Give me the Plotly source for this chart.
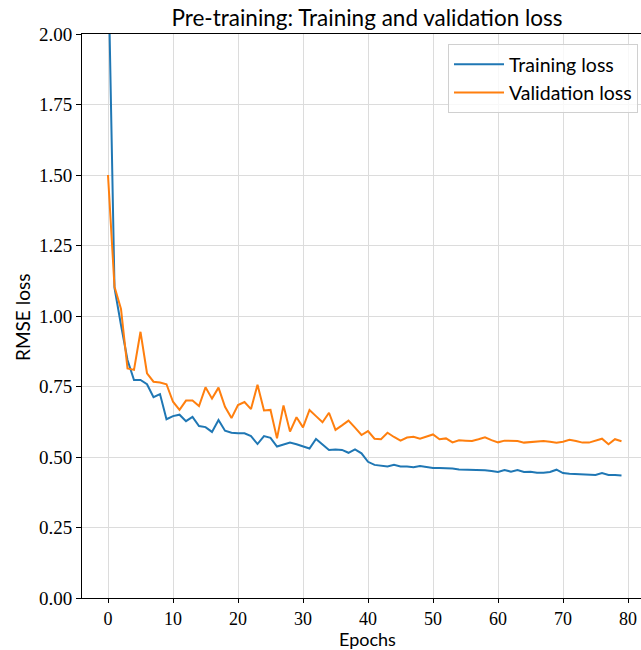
import plotly.graph_objects as go

epochs = list(range(80))

train_loss = [2.30, 1.10, 0.968, 0.844, 0.773, 0.773, 0.758, 0.712, 0.723, 0.634,
              0.645, 0.650, 0.627, 0.642, 0.610, 0.606, 0.589, 0.631, 0.593, 0.586,
              0.584, 0.584, 0.574, 0.546, 0.574, 0.568, 0.537, 0.545, 0.551, 0.545,
              0.538, 0.530, 0.564, 0.546, 0.525, 0.527, 0.525, 0.515, 0.527, 0.513,
              0.483, 0.472, 0.470, 0.466, 0.472, 0.466, 0.466, 0.464, 0.468, 0.464,
              0.461, 0.461, 0.461, 0.459, 0.456, 0.455, 0.455, 0.455, 0.453, 0.450,
              0.447, 0.454, 0.448, 0.454, 0.447, 0.448, 0.444, 0.444, 0.447, 0.455,
              0.443, 0.441, 0.440, 0.439, 0.436, 0.436, 0.443, 0.436, 0.436, 0.434]

val_loss = [1.50, 1.104, 1.025, 0.814, 0.809, 0.944, 0.797, 0.767, 0.764, 0.758,
            0.696, 0.667, 0.700, 0.700, 0.681, 0.747, 0.707, 0.746, 0.678, 0.638,
            0.684, 0.695, 0.670, 0.756, 0.665, 0.667, 0.566, 0.683, 0.590, 0.641,
            0.605, 0.667, 0.645, 0.623, 0.657, 0.596, 0.612, 0.629, 0.604, 0.578,
            0.592, 0.565, 0.563, 0.586, 0.571, 0.558, 0.569, 0.572, 0.565, 0.573,
            0.580, 0.563, 0.566, 0.552, 0.559, 0.558, 0.557, 0.563, 0.570, 0.560,
            0.552, 0.558, 0.557, 0.557, 0.551, 0.553, 0.554, 0.557, 0.554, 0.551,
            0.554, 0.561, 0.557, 0.551, 0.551, 0.557, 0.565, 0.545, 0.563, 0.556]

x_ticks = [0, 10, 20, 30, 40, 50, 60, 70, 80]
y_ticks = [0.0, 0.25, 0.5, 0.75, 1.0, 1.25, 1.5, 1.75, 2.0]
y_tick_labels = ["0.00", "0.25", "0.50", "0.75", "1.00", "1.25", "1.50", "1.75", "2.00"]

serif = "Liberation Serif"
sans = "Lato"

fig = go.Figure()
fig.add_trace(go.Scatter(x=epochs, y=train_loss, mode="lines", name="Training loss",
                         line=dict(color="#1f77b4", width=2)))
fig.add_trace(go.Scatter(x=epochs, y=val_loss, mode="lines", name="Validation loss",
                         line=dict(color="#ff7f0e", width=2)))

W, H = 641, 650
L, T, B = 82, 34, 52
fig.update_layout(
    width=W, height=H,
    margin=dict(l=L, r=0, t=T, b=B),
    paper_bgcolor="white", plot_bgcolor="white",
    title=dict(text="Pre-training: Training and validation loss",
               x=367 / W, xref="container", xanchor="center",
               y=1 - 18 / H, yref="container", yanchor="middle",
               font=dict(family=sans, size=22.5, color="black")),
    showlegend=True,
    legend=dict(x=(448 - L) / (W - L), y=(598 - 44) / (H - T - B), xanchor="left", yanchor="top",
                bgcolor="rgba(255,255,255,0.8)", bordercolor="#d0d0d0", borderwidth=1,
                font=dict(family=sans, size=19.5, color="black"),
                itemwidth=50, tracegroupgap=2),
    xaxis=dict(range=[-4.0, 82.0], tickvals=x_ticks, ticktext=[str(v) for v in x_ticks],
               showgrid=True, gridcolor="#dcdcdc", gridwidth=1, zeroline=False,
               showline=True, linecolor="black", linewidth=1, mirror=True,
               ticks="outside", ticklen=4, tickcolor="black",
               tickfont=dict(family=serif, size=18, color="black")),
    yaxis=dict(range=[0, 2.0], tickvals=y_ticks, ticktext=y_tick_labels,
               showgrid=True, gridcolor="#dcdcdc", gridwidth=1, zeroline=False,
               showline=True, linecolor="black", linewidth=1,
               ticks="outside", ticklen=5, tickcolor="black",
               tickfont=dict(family=serif, size=19, color="black")),
)
fig.add_annotation(text="Epochs", xref="paper", yref="paper",
                   x=(367 - L) / (W - L), y=(598 - 639) / (H - T - B),
                   xanchor="center", yanchor="middle", showarrow=False,
                   font=dict(family=sans, size=18, color="black"))
fig.add_annotation(text="RMSE loss", xref="paper", yref="paper",
                   x=(22 - L) / (W - L), y=(598 - 318) / (H - T - B),
                   xanchor="center", yanchor="middle", showarrow=False, textangle=-90,
                   font=dict(family=sans, size=19, color="black"))

fig.write_html("out.html")
